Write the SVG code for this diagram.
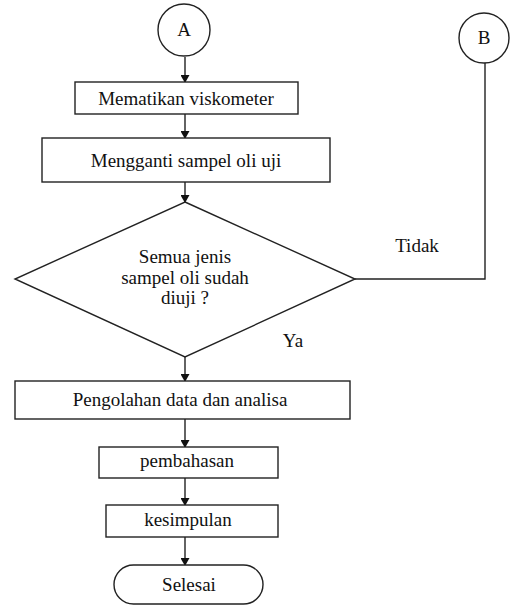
<svg xmlns="http://www.w3.org/2000/svg" width="510" height="608" viewBox="0 0 510 608">
<style>
.s{fill:#fff;stroke:#222;stroke-width:1.4}
.t{font-family:'Liberation Serif','Times New Roman',Times,'DejaVu Serif',serif;font-size:19px;fill:#111;text-anchor:middle}
.c{fill:none;stroke:#222;stroke-width:1.4}
</style>
<defs>
<marker id="ah" markerWidth="8" markerHeight="9" refX="7" refY="4.5" orient="auto" markerUnits="userSpaceOnUse">
<path d="M0,0 L8,4.5 L0,9 Z" fill="#111"/>
</marker>
</defs>
<rect width="510" height="608" fill="#fff"/>
<g id="connectors">
<line class="c" x1="185" y1="57" x2="185" y2="82" marker-end="url(#ah)"/>
<line class="c" x1="185" y1="114" x2="185" y2="138" marker-end="url(#ah)"/>
<line class="c" x1="185" y1="182" x2="185" y2="202" marker-end="url(#ah)"/>
<line class="c" x1="185" y1="357" x2="185" y2="381" marker-end="url(#ah)"/>
<line class="c" x1="185" y1="419" x2="185" y2="447" marker-end="url(#ah)"/>
<line class="c" x1="185" y1="478" x2="185" y2="505" marker-end="url(#ah)"/>
<line class="c" x1="185" y1="537" x2="185" y2="565" marker-end="url(#ah)"/>
<polyline class="c" points="355,279 485,279 485,63"/>
<text class="t" x="417" y="252">Tidak</text>
<text class="t" x="293" y="347">Ya</text>
</g>
<g id="nodeA">
<circle class="s" cx="184" cy="30" r="26"/>
<text class="t" x="184" y="36">A</text>
</g>
<g id="nodeB">
<circle class="s" cx="484" cy="38" r="25"/>
<text class="t" x="484" y="44">B</text>
</g>
<g id="n1">
<rect class="s" x="75" y="82" width="223" height="32"/>
<text class="t" x="186" y="105">Mematikan viskometer</text>
</g>
<g id="n2">
<rect class="s" x="42" y="138" width="288" height="44"/>
<text class="t" x="186" y="167">Mengganti sampel oli uji</text>
</g>
<g id="decision">
<polygon class="s" points="185,202 355,279 185,357 15,279"/>
<text class="t" x="185" y="263">Semua jenis</text>
<text class="t" x="185" y="284">sampel oli sudah</text>
<text class="t" x="185" y="304">diuji ?</text>
</g>
<g id="n3">
<rect class="s" x="15" y="381" width="335" height="38"/>
<text class="t" x="180" y="406">Pengolahan data dan analisa</text>
</g>
<g id="n4">
<rect class="s" x="99" y="447" width="179" height="31"/>
<text class="t" x="187" y="467">pembahasan</text>
</g>
<g id="n5">
<rect class="s" x="106" y="505" width="172" height="32"/>
<text class="t" x="188" y="526">kesimpulan</text>
</g>
<g id="end">
<rect class="s" x="114" y="565" width="149" height="39" rx="19.5" ry="19.5"/>
<text class="t" x="189" y="591">Selesai</text>
</g>
</svg>
